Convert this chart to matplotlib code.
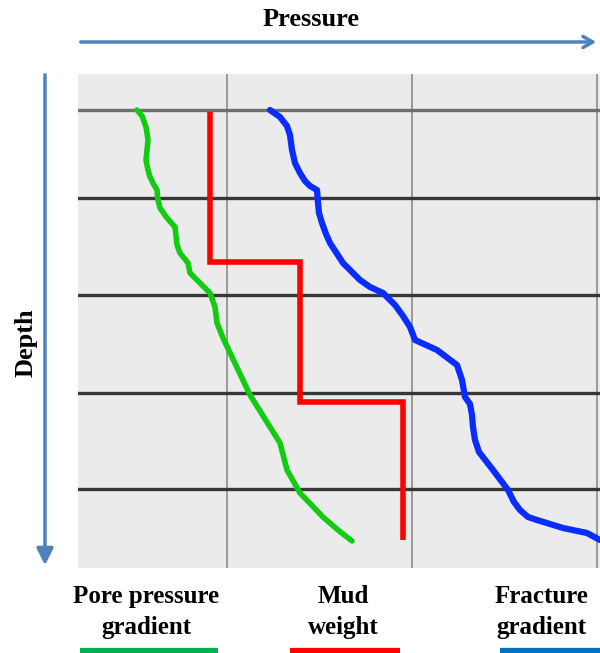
import matplotlib.pyplot as plt
from matplotlib.patches import FancyArrowPatch

# values (pressure -> right, depth -> down)
pore_p = [137, 142, 146, 148, 147, 146, 148, 150, 154, 157, 158, 160, 167, 175, 176, 177, 180, 188,
          190, 200, 210, 215, 217, 223, 250, 280, 287, 300, 323, 338, 352]
pore_d = [110, 116, 127, 140, 150, 160, 170, 177, 185, 190, 200, 208, 218, 227, 236, 245, 253, 263,
          273, 283, 293, 307, 323, 338, 395, 443, 470, 493, 517, 530, 541]

mud_p = [210, 210, 300, 300, 403, 403]
mud_d = [112, 262, 262, 402, 402, 540]

frac_p = [270, 280, 287, 290, 292, 295, 300, 305, 310, 317, 318, 319, 322, 326, 330, 343, 360, 370,
          383, 395, 403, 410, 415, 437, 457, 462, 465, 470, 472, 473, 475, 479, 493, 508, 514, 520,
          528, 537, 563, 587, 600]
frac_d = [110, 117, 126, 135, 150, 163, 173, 181, 186, 190, 203, 213, 223, 234, 243, 263, 280, 287,
          293, 305, 316, 327, 340, 350, 365, 380, 397, 404, 415, 427, 440, 452, 470, 490, 502, 510,
          517, 520, 528, 533, 540]

depth_lines = [110, 198, 295, 393, 489]
pressure_lines = [227, 412, 597]

labels = ["Pore pressure\ngradient", "Mud\nweight", "Fracture\ngradient"]
label_x = [146, 343, 541]
swatch_x = [(80, 218), (290, 400), (500, 600)]

GREEN = "#11cc11"
RED = "#ff0000"
BLUE = "#0a2cff"
ARROW = "#4f81bd"
SWATCH = ["#00b050", "#ff0000", "#0070c0"]

W, H = 600, 653
fig = plt.figure(figsize=(W / 100, H / 100), dpi=100)
plt.rcParams["font.family"] = ["Liberation Serif", "DejaVu Serif"]

ax = fig.add_axes([78 / W, 1 - 568 / H, 522 / W, 494 / H])
ax.set_facecolor("#ebebeb")
ax.set_xlim(78, 600)
ax.set_ylim(568, 74)
for s in ax.spines.values():
    s.set_visible(False)
ax.set_xticks([])
ax.set_yticks([])

for x in pressure_lines:
    ax.axvline(x, color="#8c8c8c", lw=1.2, zorder=1)
for i, y in enumerate(depth_lines):
    ax.axhline(y, color="#6e6e6e" if i == 0 else "#383838", lw=2.4, zorder=2)

ax.plot(pore_p, pore_d, color=GREEN, lw=4.0, solid_capstyle="round", solid_joinstyle="round", zorder=3)
ax.plot(mud_p, mud_d, color=RED, lw=4.0, solid_capstyle="butt", solid_joinstyle="miter", zorder=3)
ax.plot(frac_p, frac_d, color=BLUE, lw=4.5, solid_capstyle="round", solid_joinstyle="round", zorder=3)

# overlay in pixel coordinates for arrows and labels
ov = fig.add_axes([0, 0, 1, 1], facecolor="none")
ov.set_xlim(0, W)
ov.set_ylim(H, 0)
ov.axis("off")

ov.add_patch(FancyArrowPatch((78, 42), (599, 42), arrowstyle="->,head_length=7,head_width=4",
                             color=ARROW, lw=2.5, mutation_scale=1, clip_on=False))
ov.add_patch(FancyArrowPatch((45, 72), (45, 568), arrowstyle="-|>,head_length=10,head_width=5",
                             color=ARROW, lw=2.5, mutation_scale=1, clip_on=False))

ov.text(311, 20, "Pressure", fontsize=19, fontweight="bold", ha="center", va="center")
ov.text(26, 343, "Depth", fontsize=19, fontweight="bold", ha="center", va="center", rotation=90)

for lab, x in zip(labels, label_x):
    ov.text(x, 612, lab, fontsize=18, fontweight="bold", ha="center", va="center", linespacing=1.45)

for (x0, x1), c in zip(swatch_x, SWATCH):
    ov.plot([x0, x1], [651, 651], color=c, lw=4.5, solid_capstyle="butt")

fig.savefig("out.png", dpi=100)
